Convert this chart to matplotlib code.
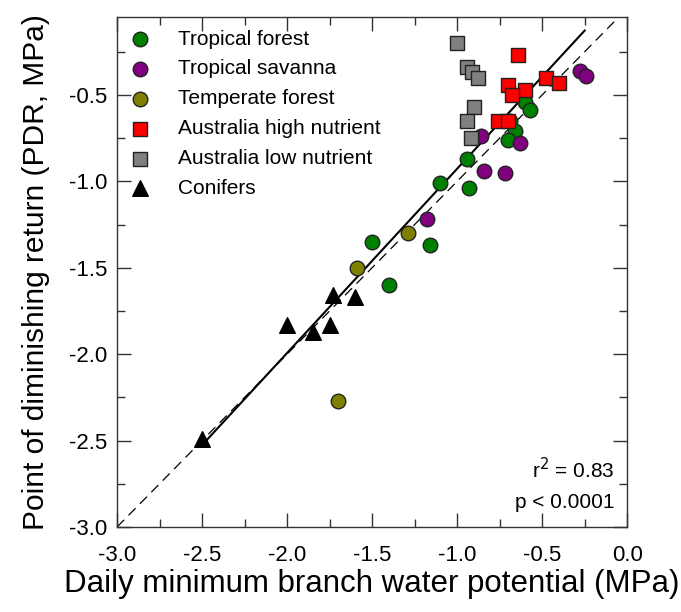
import numpy as np
import matplotlib
matplotlib.use('Agg')
import matplotlib.pyplot as plt
from matplotlib.ticker import MultipleLocator

plt.rcParams['font.family'] = ['Liberation Sans', 'DejaVu Sans']

# 데이터
trop_forest_x = [-0.60, -0.57, -0.69, -0.66, -0.70, -0.94, -1.10, -0.93, -1.50, -1.16, -1.40]
trop_forest_y = [-0.54, -0.59, -0.65, -0.71, -0.76, -0.87, -1.01, -1.04, -1.35, -1.37, -1.60]

trop_savanna_x = [-0.28, -0.24, -0.86, -0.63, -0.84, -0.72, -1.18]
trop_savanna_y = [-0.36, -0.39, -0.74, -0.78, -0.94, -0.95, -1.22]

temp_forest_x = [-1.29, -1.59, -1.70]
temp_forest_y = [-1.30, -1.50, -2.27]

aus_high_x = [-0.64, -0.48, -0.40, -0.70, -0.60, -0.68, -0.76, -0.70]
aus_high_y = [-0.27, -0.40, -0.43, -0.44, -0.47, -0.50, -0.65, -0.65]

aus_low_x = [-1.00, -0.94, -0.91, -0.88, -0.90, -0.94, -0.92]
aus_low_y = [-0.20, -0.34, -0.37, -0.40, -0.57, -0.65, -0.75]

conifer_x = [-2.50, -1.73, -1.60, -2.00, -1.85, -1.75]
conifer_y = [-2.49, -1.66, -1.67, -1.83, -1.87, -1.83]

# 회귀선
fit_slope = 1.066
fit_intercept = 0.139
fit_range = [-2.5, -0.25]

fig = plt.figure(figsize=(6.81, 6.12), dpi=100)
ax = fig.add_axes([0.172, 0.139, 0.749, 0.833])

# 1:1 선, 회귀선
ax.plot([-3, 0], [-3, 0], color='black', linestyle=(0, (8, 5)), linewidth=0.9, zorder=1)
fx = np.array(fit_range)
ax.plot(fx, fit_slope * fx + fit_intercept, color='black', linewidth=1.5, zorder=2)

ms = 110
ax.scatter(trop_forest_x, trop_forest_y, s=ms, marker='o', color='green', edgecolor='#222222',
           linewidth=1, label='Tropical forest', zorder=3)
ax.scatter(trop_savanna_x, trop_savanna_y, s=ms, marker='o', color='purple', edgecolor='#222222',
           linewidth=1, label='Tropical savanna', zorder=3)
ax.scatter(temp_forest_x, temp_forest_y, s=ms, marker='o', color='olive', edgecolor='#222222',
           linewidth=1, label='Temperate forest', zorder=3)
ax.scatter(aus_high_x, aus_high_y, s=ms * 0.95, marker='s', color='red', edgecolor='#222222',
           linewidth=1, label='Australia high nutrient', zorder=4)
ax.scatter(aus_low_x, aus_low_y, s=ms * 0.95, marker='s', color='gray', edgecolor='#222222',
           linewidth=1, label='Australia low nutrient', zorder=4)
ax.scatter(conifer_x, conifer_y, s=ms * 1.15, marker='^', color='black', edgecolor='black',
           linewidth=1, label='Conifers', zorder=5)

ax.set_xlim(-3, 0)
ax.set_ylim(-3, -0.05)
ax.xaxis.set_major_locator(MultipleLocator(0.5))
ax.xaxis.set_minor_locator(MultipleLocator(0.25))
ax.yaxis.set_major_locator(MultipleLocator(0.5))
ax.yaxis.set_minor_locator(MultipleLocator(0.25))
ax.xaxis.set_major_formatter(matplotlib.ticker.FormatStrFormatter('%.1f'))
ax.yaxis.set_major_formatter(matplotlib.ticker.FormatStrFormatter('%.1f'))
ax.tick_params(which='both', direction='in', top=True, right=True, labelsize=16, color='#333333')
ax.tick_params(which='major', length=10, width=1, pad=7)
ax.tick_params(axis='x', which='major', pad=13)
ax.tick_params(which='minor', length=6, width=1)
for sp in ax.spines.values():
    sp.set_color('#333333')
    sp.set_linewidth(1)

ax.set_xlabel('Daily minimum branch water potential (MPa)', fontsize=22.5, labelpad=2)
ax.set_ylabel('Point of diminishing return (PDR, MPa)', fontsize=21.5, labelpad=14)

ax.text(0.976, 0.112, r'r$^2$ = 0.83', transform=ax.transAxes, ha='right', va='center', fontsize=15)
ax.text(0.976, 0.047, 'p < 0.0001', transform=ax.transAxes, ha='right', va='center', fontsize=15)

ax.legend(loc='upper left', frameon=False, fontsize=15, handlelength=1.0, handletextpad=1.3,
          labelspacing=0.52, borderaxespad=0.2, scatterpoints=1, markerscale=1.0)

fig.savefig('out.png', dpi=100)
